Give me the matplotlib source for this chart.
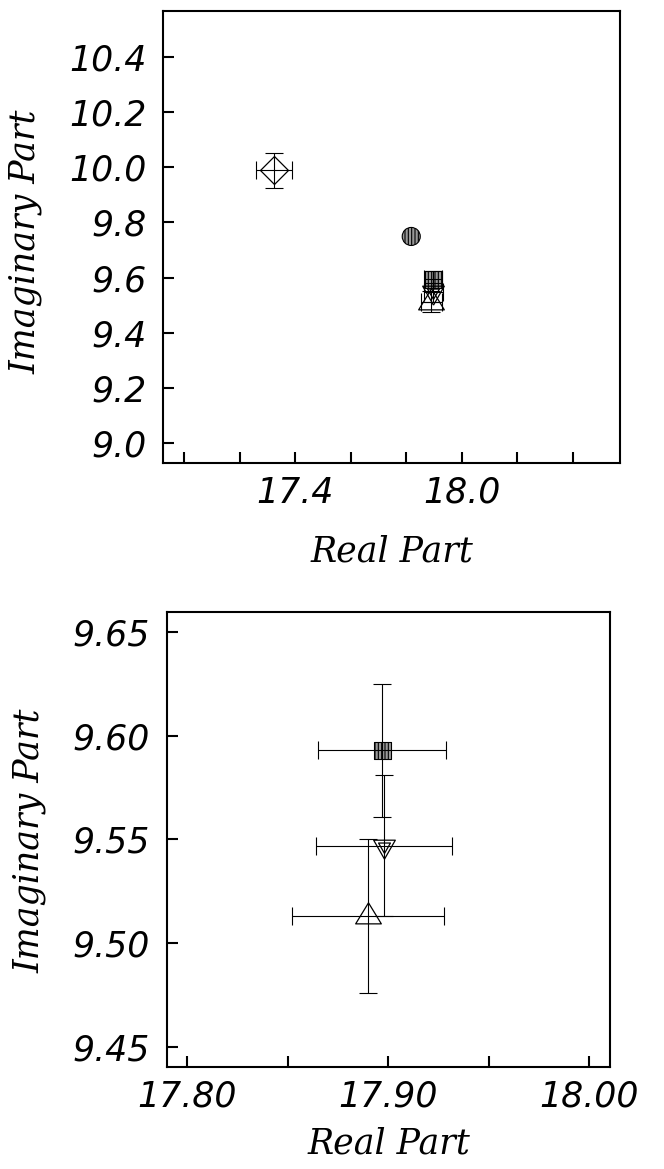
import numpy as np
import matplotlib
matplotlib.use("Agg")
import matplotlib.pyplot as plt
from matplotlib.ticker import FixedLocator, FixedFormatter, NullFormatter

# pole positions (real, imaginary) with 1-sigma errors
real_part = np.array([17.323, 17.818, 17.897, 17.898, 17.890])
imag_part = np.array([9.989, 9.749, 9.593, 9.547, 9.513])
real_err = np.array([0.065, 0.0, 0.032, 0.034, 0.038])
imag_err = np.array([0.064, 0.0, 0.032, 0.034, 0.037])
symbols = ["diamond", "circle", "square", "down", "up"]

# tick values / labels
top_xmajor = [17.4, 18.0]
top_xlabels = ["17.4", "18.0"]
top_xminor = [17.0, 17.2, 17.6, 17.8, 18.2, 18.4]
top_yticks = [9.0, 9.2, 9.4, 9.6, 9.8, 10.0, 10.2, 10.4]
top_ylabels = ["9.0", "9.2", "9.4", "9.6", "9.8", "10.0", "10.2", "10.4"]

zoom_xmajor = [17.80, 17.90, 18.00]
zoom_xlabels = ["17.80", "17.90", "18.00"]
zoom_xminor = [17.85, 17.95]
zoom_yticks = [9.45, 9.50, 9.55, 9.60, 9.65]
zoom_ylabels = ["9.45", "9.50", "9.55", "9.60", "9.65"]

plt.rcParams["hatch.linewidth"] = 0.8

# triangles with the data point at the centroid
tri_up = [(0, 1.3), (-1.22, -0.7), (1.22, -0.7), (0, 1.3)]
tri_down = [(0, -1.267), (-1.085, 0.633), (1.085, 0.633), (0, -1.267)]

tick_font = dict(family="DejaVu Sans", style="oblique", size=25)
label_font = dict(family="DejaVu Serif", style="italic", size=25)


def draw_points(ax):
    has_err = (real_err > 0) | (imag_err > 0)
    ax.errorbar(real_part[has_err], imag_part[has_err],
                xerr=real_err[has_err], yerr=imag_err[has_err],
                fmt="none", ecolor="k", elinewidth=0.8, capsize=6.5,
                capthick=0.8, zorder=3)
    for x, y, sym in zip(real_part, imag_part, symbols):
        if sym == "diamond":
            ax.plot(x, y, marker="D", ms=14.3, mfc="none", mec="k", mew=0.9, zorder=2)
        elif sym == "circle":
            ax.scatter(x, y, marker="o", s=169, facecolor="0.6", edgecolor="k",
                       hatch="|||||", lw=0.8, zorder=2)
        elif sym == "square":
            ax.scatter(x, y, marker="s", s=150, facecolor="0.6", edgecolor="k",
                       hatch="|||||", lw=0.8, zorder=2)
        elif sym == "down":
            ax.plot(x, y, marker=tri_down, ms=18.2, mfc="none", mec="k", mew=0.9, zorder=2)
            ax.plot(x, y, marker=tri_down, ms=10, mfc="none", mec="k", mew=0.9, zorder=2)
        elif sym == "up":
            ax.plot(x, y, marker=tri_up, ms=19.7, mfc="none", mec="k", mew=0.9, zorder=2)


def style_axes(ax, xmajor, xlabels, xminor, yticks, ylabels):
    for s in ax.spines.values():
        s.set_linewidth(1.5)
    ax.xaxis.set_major_locator(FixedLocator(xmajor))
    ax.xaxis.set_major_formatter(FixedFormatter(xlabels))
    ax.xaxis.set_minor_locator(FixedLocator(xminor))
    ax.xaxis.set_minor_formatter(NullFormatter())
    ax.yaxis.set_major_locator(FixedLocator(yticks))
    ax.yaxis.set_major_formatter(FixedFormatter(ylabels))
    ax.tick_params(which="both", direction="in", length=8, width=1.5,
                   top=False, right=False)
    ax.tick_params(axis="x", which="both", pad=9)
    ax.tick_params(axis="y", which="both", pad=12)
    for lab in ax.get_xticklabels() + ax.get_yticklabels():
        lab.set_fontfamily(tick_font["family"])
        lab.set_fontstyle(tick_font["style"])
        lab.set_fontsize(tick_font["size"])
    ax.set_xlabel("Real Part", **label_font)
    ax.set_ylabel("Imaginary Part", **label_font)


if __name__ == "__main__":
    fig = plt.figure(figsize=(6.64, 11.69), dpi=100)

    # full view
    ax1 = fig.add_axes([0.2455, 0.6039, 0.6883, 0.3867])
    draw_points(ax1)
    ax1.set_xlim(16.924, 18.570)
    ax1.set_ylim(8.927, 10.567)
    style_axes(ax1, top_xmajor, top_xlabels, top_xminor, top_yticks, top_ylabels)
    ax1.xaxis.set_label_coords(0.5, -0.158)
    ax1.yaxis.set_label_coords(-0.263, 0.49)

    # zoom on the cluster
    ax2 = fig.add_axes([0.2515, 0.0873, 0.6672, 0.3892])
    draw_points(ax2)
    ax2.set_xlim(17.790, 18.0104)
    ax2.set_ylim(9.4404, 9.6596)
    style_axes(ax2, zoom_xmajor, zoom_xlabels, zoom_xminor, zoom_yticks, zoom_ylabels)
    ax2.xaxis.set_label_coords(0.5, -0.13)
    ax2.yaxis.set_label_coords(-0.271, 0.497)

    fig.savefig("out.png", dpi=100)
